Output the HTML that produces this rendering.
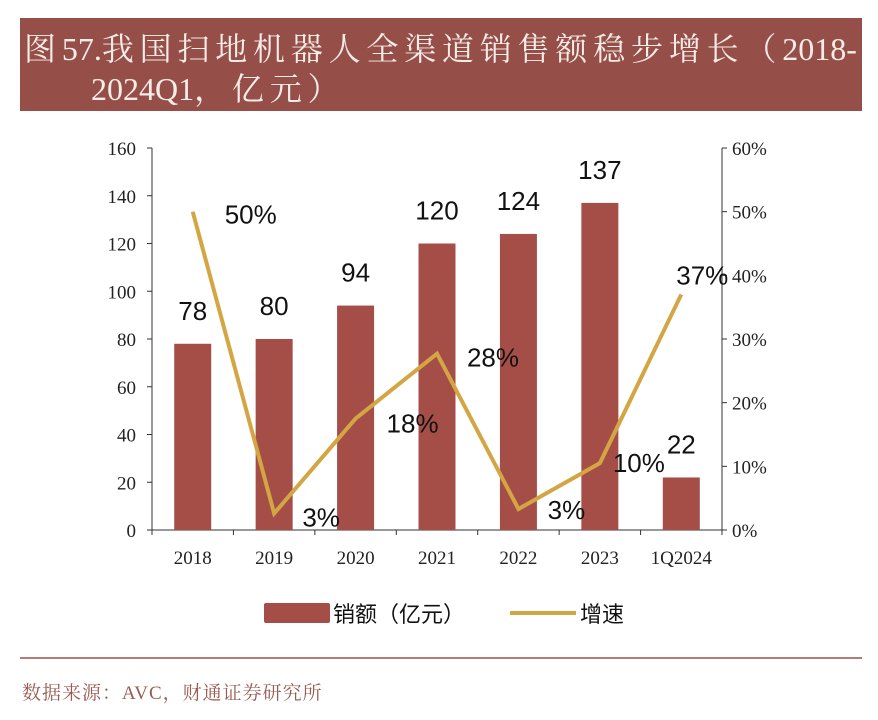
<!DOCTYPE html>
<html><head><meta charset="utf-8"><style>
body{margin:0;width:878px;height:720px;background:#fff;overflow:hidden;position:relative;font-family:"Liberation Serif","Noto Serif CJK SC",serif}
#banner{position:absolute;left:20px;top:18px;width:842px;height:93px;background:#964f48}
.t{position:absolute;color:#f6ece8;font-size:32px;white-space:nowrap;letter-spacing:5.8px}
.t span{letter-spacing:0}
#src{position:absolute;left:22px;top:678px;color:#9a5a52;font-size:19px;letter-spacing:1px}
#rule{position:absolute;left:20px;top:657px;width:842px;height:2px;background:#b57c76}
</style></head><body>
<div id="banner"></div>
<div class="t" style="left:24px;top:24px">图<span>57.</span>我国扫地机器人全渠道销售额稳步增长（<span>2018-</span></div>
<div class="t" style="left:91px;top:64px"><span>2024Q1</span>，亿元）</div>
<svg id="chart" width="878" height="720" style="position:absolute;left:0;top:0"></svg>
<div id="rule"></div>
<div id="src">数据来源：AVC，财通证券研究所</div>
<script>
const categories=["2018","2019","2020","2021","2022","2023","1Q2024"];
const sales=[78,80,94,120,124,137,22];
const growth=[50,2.6,17.5,27.7,3.3,10.5,37];
const growthLabels=["50%","3%","18%","28%","3%","10%","37%"];
const leftTicks=[0,20,40,60,80,100,120,140,160];
const rightTicks=[0,10,20,30,40,50,60];
const NS="http://www.w3.org/2000/svg";
const svg=document.getElementById('chart');
const L=152,R=722,T=148,B=530;
const x=i=>L+(i+0.5)*(R-L)/categories.length;
const yL=v=>B-v/160*(B-T);
const yR=v=>B-v/60*(B-T);
function el(tag,attrs,txt){const e=document.createElementNS(NS,tag);for(const k in attrs)e.setAttribute(k,attrs[k]);if(txt!==undefined)e.textContent=txt;svg.appendChild(e);return e;}
const serif='"Liberation Serif",serif', sans='"Liberation Sans","Noto Sans CJK SC",sans-serif';
let a=el('line',{x1:L,y1:T,x2:L,y2:B,stroke:'#333'});

a=el('line',{x1:R,y1:T,x2:R,y2:B,stroke:'#333'});

a=el('line',{x1:L,y1:B,x2:R,y2:B,stroke:'#333'});

leftTicks.forEach(v=>{el('line',{x1:L-5,y1:yL(v),x2:L,y2:yL(v),stroke:'#333'});
 const t=el('text',{x:L-16,y:yL(v)+7,'text-anchor':'end','font-size':19,'font-family':serif,fill:'#222'},v);
 });
rightTicks.forEach(v=>{el('line',{x1:R,y1:yR(v),x2:R+5,y2:yR(v),stroke:'#333'});
 const t=el('text',{x:R+10,y:yR(v)+7,'font-size':19,'font-family':serif,fill:'#222'},v+'%');
 });
for(let i=0;i<=categories.length;i++){const xx=L+i*(R-L)/categories.length;el('line',{x1:xx,y1:B,x2:xx,y2:B+5,stroke:'#333'});}
categories.forEach((c,i)=>{
 const t=el('text',{x:x(i),y:B+34,'text-anchor':'middle','font-size':19,'font-family':serif,fill:'#222'},c);
 
 const b=el('rect',{x:x(i)-18.5,y:yL(sales[i]),width:37,height:B-yL(sales[i]),fill:'#a54e47'});
 
 const l=el('text',{x:x(i),y:yL(sales[i])-24,'text-anchor':'middle','font-size':26,'font-family':sans,fill:'#111'},sales[i]);
 
});
const pl=el('polyline',{points:growth.map((g,i)=>x(i)+','+yR(g)).join(' '),fill:'none',stroke:'#d4a543','stroke-width':4});

const off=[[58,12],[47,13],[57,14],[56,13],[48,10],[39,9],[21,-10]];
growth.forEach((g,i)=>{
 const t=el('text',{x:x(i)+off[i][0],y:yR(g)+off[i][1],'text-anchor':'middle','font-size':26,'font-family':sans,fill:'#111'},growthLabels[i]);
 });
let lg=el('rect',{x:264,y:603,width:66,height:20,fill:'#a54e47',rx:2});

lg=el('text',{x:333,y:622,'font-size':22,'font-family':sans,fill:'#111'},'销额（亿元）');

lg=el('line',{x1:510,y1:613,x2:576,y2:613,stroke:'#d4a543','stroke-width':4});

lg=el('text',{x:580,y:622,'font-size':22,'font-family':sans,fill:'#111'},'增速');

</script>
</body></html>
